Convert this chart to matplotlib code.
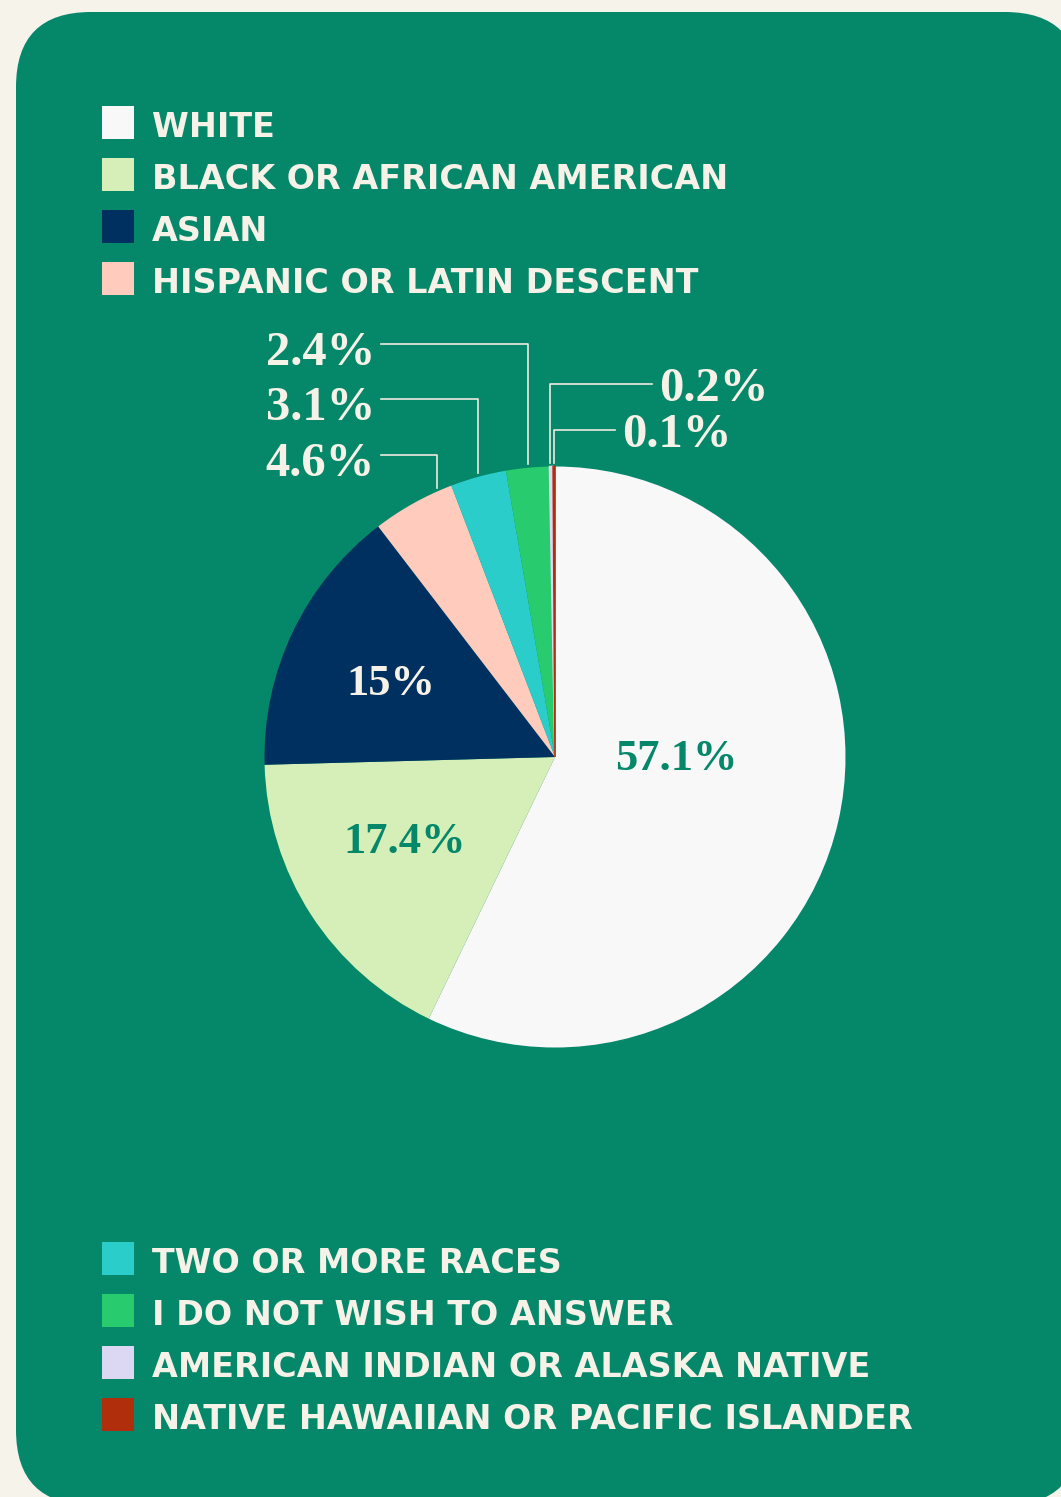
import matplotlib
matplotlib.use("Agg")
import numpy as np
import matplotlib.pyplot as plt
from matplotlib.patches import FancyBboxPatch, Rectangle

# data
groups = ["WHITE", "BLACK OR AFRICAN AMERICAN", "ASIAN", "HISPANIC OR LATIN DESCENT",
          "TWO OR MORE RACES", "I DO NOT WISH TO ANSWER",
          "AMERICAN INDIAN OR ALASKA NATIVE", "NATIVE HAWAIIAN OR PACIFIC ISLANDER"]
shares = [57.1, 17.4, 15.0, 4.6, 3.1, 2.4, 0.2, 0.1]
share_labels = ["57.1%", "17.4%", "15%", "4.6%", "3.1%", "2.4%", "0.2%", "0.1%"]
colors = ["#f8f8f8", "#d6efb8", "#00305f", "#ffcbbd",
          "#2bcdcb", "#28cc6e", "#dcd8f4", "#b02e0c"]

W, H = 1061, 1497
bg = "#f6f3eb"
card = "#05876a"
cream = "#f6f2e8"

fig = plt.figure(figsize=(W / 100, H / 100), dpi=100)
fig.patch.set_facecolor(bg)
ax = fig.add_axes([0, 0, 1, 1])

# green card, runs off the right and bottom edges
ax.add_patch(FancyBboxPatch((16, 12), 1080 - 16, 1505 - 12,
                            boxstyle="round,pad=0,rounding_size=75",
                            fc=card, ec="none", zorder=0))

# pie (image coords, y downwards -> start at -90 and go counterclock in data terms)
cx, cy, r = 555, 757, 290.5
wedges, _ = ax.pie(shares, colors=colors, startangle=-90, counterclock=True,
                   center=(cx, cy), radius=r, wedgeprops=dict(linewidth=0),
                   frame=True)
for w in wedges:
    w.set_zorder(2)
# the two tiny slices get a thin same-colour edge so they stay visible
for w in wedges[-2:]:
    w.set_edgecolor(w.get_facecolor())
    w.set_linewidth(1.2)

ax.set_xlim(0, W)
ax.set_ylim(H, 0)
ax.set_aspect("equal")
ax.axis("off")

serif = "Liberation Serif"

# labels inside the pie (offsets in radius units)
inner = {0: (0.417, 0.045, card), 1: (-0.516, 0.330, card), 2: (-0.564, -0.215, cream)}
for i, (dx, dy, c) in inner.items():
    ax.text(cx + dx * r, cy + dy * r, share_labels[i], ha="center", va="baseline",
            fontsize=32, fontweight="bold", family=serif, color=c, zorder=3)

# callouts for the thin slices
line_c = "#eeeae0"
callouts = {
    # idx: (side, line y, frac within wedge, text x)
    3: ("left", 455, 0.81, 375),
    4: ("left", 399, 0.5, 375),
    5: ("left", 344, 0.5, 375),
    6: ("right", 384, 0.2, 652),
    7: ("right", 430, 0.5, 615),
}
for i, (side, ly, frac, tx) in callouts.items():
    w = wedges[i]
    a = np.deg2rad(w.theta1 + frac * (w.theta2 - w.theta1))
    ax_x = cx + r * np.cos(a)
    ax_y = cy + r * np.sin(a) - 4
    if side == "left":
        ax.plot([tx + 6, ax_x, ax_x], [ly, ly, ax_y], color=line_c, lw=1.2, zorder=3)
        ax.text(tx, ly + 21, share_labels[i], ha="right", va="baseline", fontsize=35,
                fontweight="bold", family=serif, color=cream, zorder=3)
    else:
        ax.plot([tx, ax_x, ax_x], [ly, ly, ax_y], color=line_c, lw=1.2, zorder=3)
        ax.text(tx + 7, ly + 17, share_labels[i], ha="left", va="baseline", fontsize=35,
                fontweight="bold", family=serif, color=cream, zorder=3)

# legends: first four on top, rest below the pie
row_gap = 52
rows = [(i, 122.5 + i * row_gap) for i in range(4)] + \
       [(i, 1258.5 + (i - 4) * row_gap) for i in range(4, 8)]
for i, yc in rows:
    ax.add_patch(Rectangle((102, yc - 16.5), 32, 33, fc=colors[i], ec="none", zorder=3))
    ax.text(152, yc + 14.5, groups[i], ha="left", va="baseline", fontsize=24,
            fontweight="bold", family="DejaVu Sans", color=cream, zorder=3)

fig.savefig("out.png", dpi=100, facecolor=bg)
